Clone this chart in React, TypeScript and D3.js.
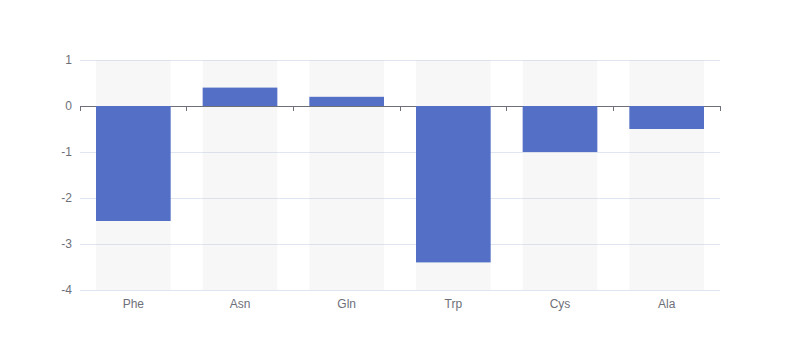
import React from "react";
import * as d3 from "d3";

const categories = ["Phe", "Asn", "Gln", "Trp", "Cys", "Ala"];
const values = [-2.5, 0.4, 0.2, -3.4, -1, -0.5];
const yTicks = [1, 0, -1, -2, -3, -4];

export default function App() {
  const W = 800, H = 360;
  const left = 80, right = 720, top = 60, bottom = 290;
  const x = d3.scaleBand<string>().domain(categories).range([left, right]).paddingInner(0).paddingOuter(0);
  const y = d3.scaleLinear().domain([-4, 1]).range([bottom, top]);
  const bw = x.bandwidth() * 0.7;
  const off = (x.bandwidth() - bw) / 2;
  const font = "sans-serif";
  const boundaries = categories.map((c) => x(c)!).concat([right]);
  return (
    <svg width={W} height={H} style={{ display: "block", position: "absolute", left: 0, top: 0 }}>
      {yTicks.map((t) => (
        t !== 0 ? <line key={t} x1={left} x2={right} y1={y(t)} y2={y(t)} stroke="#E0E6F1" strokeWidth={1} shapeRendering="crispEdges" /> : null
      ))}
      {categories.map((c) => (
        <rect key={"bg" + c} x={x(c)! + off} y={top} width={bw} height={bottom - top} fill="rgba(180,180,180,0.1)" />
      ))}
      <line x1={left} x2={right} y1={y(0)} y2={y(0)} stroke="#6E7079" strokeWidth={1} shapeRendering="crispEdges" />
      {boundaries.map((b, i) => (
        <line key={"tk" + i} x1={b} x2={b} y1={y(0)} y2={y(0) + 5} stroke="#6E7079" strokeWidth={1} shapeRendering="crispEdges" />
      ))}
      {categories.map((c, i) => (
        <rect key={c} x={x(c)! + off} y={y(Math.max(0, values[i]))} width={bw} height={Math.abs(y(values[i]) - y(0))} fill="#5470c6" />
      ))}
      {yTicks.map((t) => (
        <text key={"yl" + t} x={left - 8} y={y(t)} dy="0.35em" textAnchor="end" fontFamily={font} fontSize={12} fill="#6E7079">{t}</text>
      ))}
      {categories.map((c) => (
        <text key={"xl" + c} x={x(c)! + x.bandwidth() / 2} y={bottom + 8} dy="0.8em" textAnchor="middle" fontFamily={font} fontSize={12} fill="#6E7079">{c}</text>
      ))}
    </svg>
  );
}
